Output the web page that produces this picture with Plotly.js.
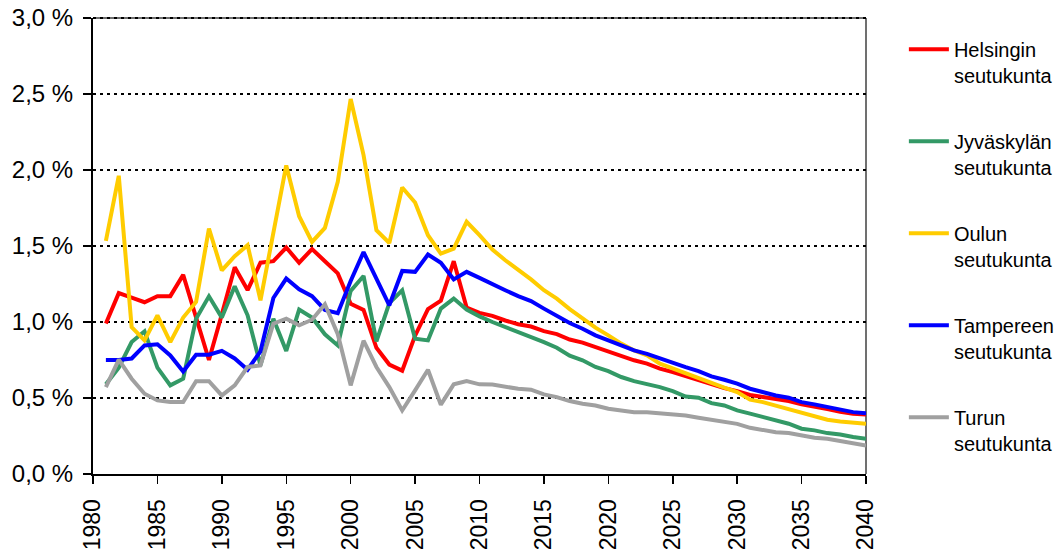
<!DOCTYPE html>
<html>
<head>
<meta charset="utf-8">
<script src="https://cdn.plot.ly/plotly-3.0.1.min.js"></script>
<style>html,body{margin:0;padding:0;background:#fff;}#chart{width:1060px;height:550px;}</style>
</head>
<body>
<div id="chart"></div>
<script>
const years = [];
for (let y = 1981; y <= 2040; y++) years.push(y);

const seriesNames = ["Helsingin<br>seutukunta", "Jyväskylän<br>seutukunta", "Oulun<br>seutukunta", "Tampereen<br>seutukunta", "Turun<br>seutukunta"];

const helsinki = [0.99,1.19,1.16,1.13,1.17,1.17,1.31,1.03,0.75,1.05,1.36,1.21,1.39,1.40,1.49,1.39,1.48,1.40,1.32,1.12,1.08,0.83,0.72,0.68,0.91,1.085,1.14,1.40,1.095,1.06,1.04,1.01,0.985,0.97,0.94,0.92,0.885,0.864,0.835,0.807,0.778,0.748,0.726,0.693,0.671,0.644,0.616,0.59,0.565,0.545,0.52,0.506,0.495,0.48,0.458,0.445,0.427,0.41,0.397,0.392];

const jyvaskyla = [0.59,0.70,0.868,0.939,0.70,0.583,0.627,1.022,1.169,1.029,1.235,1.044,0.715,1.022,0.809,1.082,1.029,0.919,0.846,1.205,1.303,0.872,1.125,1.209,0.89,0.879,1.088,1.154,1.082,1.037,1.0,0.967,0.934,0.906,0.868,0.831,0.778,0.748,0.704,0.677,0.638,0.611,0.594,0.572,0.545,0.51,0.502,0.466,0.451,0.418,0.397,0.374,0.348,0.331,0.298,0.287,0.269,0.26,0.243,0.232];

const oulu = [1.534,1.962,0.967,0.879,1.044,0.868,1.029,1.132,1.615,1.34,1.433,1.505,1.143,1.57,2.03,1.696,1.527,1.619,1.922,2.467,2.098,1.604,1.52,1.885,1.786,1.571,1.45,1.483,1.659,1.571,1.477,1.406,1.345,1.28,1.209,1.154,1.085,1.022,0.963,0.912,0.858,0.813,0.781,0.726,0.693,0.664,0.627,0.594,0.568,0.539,0.489,0.473,0.451,0.423,0.403,0.381,0.357,0.346,0.341,0.331];

const tampere = [0.75,0.75,0.76,0.846,0.853,0.78,0.675,0.785,0.785,0.81,0.76,0.686,0.807,1.158,1.286,1.215,1.17,1.08,1.058,1.27,1.46,1.28,1.11,1.336,1.33,1.444,1.39,1.28,1.33,1.29,1.253,1.209,1.17,1.138,1.088,1.037,0.993,0.956,0.912,0.879,0.846,0.813,0.79,0.759,0.732,0.703,0.677,0.642,0.62,0.594,0.561,0.539,0.517,0.502,0.473,0.458,0.44,0.423,0.407,0.40];

const turku = [0.572,0.752,0.627,0.528,0.484,0.473,0.473,0.611,0.611,0.517,0.583,0.704,0.715,0.989,1.022,0.978,1.015,1.117,0.92,0.583,0.877,0.704,0.572,0.418,0.55,0.686,0.456,0.59,0.611,0.59,0.588,0.572,0.561,0.555,0.524,0.506,0.48,0.462,0.451,0.429,0.418,0.407,0.407,0.40,0.392,0.385,0.37,0.357,0.341,0.33,0.304,0.287,0.275,0.269,0.254,0.238,0.232,0.216,0.199,0.188];

const colors = ["#FF0000", "#339966", "#FFCC00", "#0000FF", "#A0A0A0"];
const allSeries = [helsinki, jyvaskyla, oulu, tampere, turku];

const xTickVals = [1980,1985,1990,1995,2000,2005,2010,2015,2020,2025,2030,2035,2040];
const yTickVals = [0,0.5,1.0,1.5,2.0,2.5,3.0];
const yTickText = ["0,0 %","0,5 %","1,0 %","1,5 %","2,0 %","2,5 %","3,0 %"];

const FONT = "Liberation Sans, Arial, sans-serif";

const traces = allSeries.map((vals, i) => ({
  x: years, y: vals, type: "scatter", mode: "lines",
  name: seriesNames[i], legendgroup: "g" + i,
  line: {color: colors[i], width: 4}
}));

const layout = {
  width: 1060, height: 550,
  margin: {l: 93, r: 194, t: 18, b: 76, pad: 0, autoexpand: false},
  paper_bgcolor: "#ffffff", plot_bgcolor: "#ffffff",
  font: {family: FONT, color: "#000000"},
  showlegend: true,
  legend: {
    x: 1.049, xanchor: "left", y: 0.974, yanchor: "top",
    font: {family: FONT, size: 20, color: "#000"},
    valign: "top", tracegroupgap: 37, itemwidth: 40,
    bgcolor: "rgba(0,0,0,0)", borderwidth: 0
  },
  xaxis: {
    range: [1980, 2040], tickvals: xTickVals, ticktext: xTickVals.map(String),
    tickangle: -90, ticks: "outside", ticklen: 8, tickwidth: 1.5, tickcolor: "#000",
    showline: true, linecolor: "#000", linewidth: 2,
    showgrid: false, zeroline: false,
    tickfont: {family: FONT, size: 23, color: "#000"},
    ticklabelstandoff: 6
  },
  yaxis: {
    range: [0, 3], tickvals: yTickVals, ticktext: yTickText,
    ticks: "outside", ticklen: 8, tickwidth: 1.5, tickcolor: "#000",
    showline: true, linecolor: "#000", linewidth: 2,
    showgrid: true, gridcolor: "#000", gridwidth: 2, griddash: "3px,4px",
    zeroline: false,
    tickfont: {family: FONT, size: 24, color: "#000"},
    ticklabelstandoff: 5
  },
  shapes: [
    {type: "line", xref: "paper", yref: "paper", x0: 0, x1: 1, y0: 1, y1: 1, line: {color: "#707070", width: 2}, layer: "below"},
    {type: "line", xref: "paper", yref: "paper", x0: 0, x1: 1, y0: 1, y1: 1, line: {color: "#000000", width: 2, dash: "3px,4px"}, layer: "above"},
    {type: "line", xref: "paper", yref: "paper", x0: 1, x1: 1, y0: 0, y1: 1, line: {color: "#707070", width: 2}, layer: "below"}
  ]
};

Plotly.newPlot("chart", traces, layout, {displayModeBar: false, staticPlot: true});
</script>
</body>
</html>
